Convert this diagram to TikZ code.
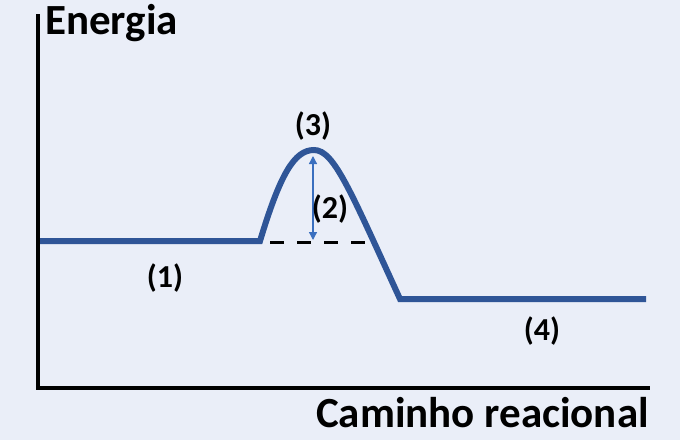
\documentclass[tikz,border=0pt]{standalone}
\usepackage{fontspec}
\setmainfont{Carlito}
\usetikzlibrary{arrows.meta}
\definecolor{bgc}{HTML}{EAEEF8}
\definecolor{curvec}{HTML}{2F5597}
\definecolor{arrc}{HTML}{3A6FBF}
\tikzset{
  axis/.style={line width=4pt, line cap=rect},
  pathline/.style={curvec, line width=6pt, line join=miter},
  lbl/.style={font=\bfseries\fontsize{32}{36}\selectfont, inner sep=0pt},
  ttl/.style={font=\bfseries\fontsize{43}{48}\selectfont, inner sep=0pt},
}
\begin{document}
\begin{tikzpicture}[x=1pt,y=-1pt]
\fill[bgc] (0,0) rectangle (680,440);
\useasboundingbox (0,0) rectangle (680,440);
\coordinate (top) at (38,16);
\coordinate (origin) at (38,388);
\coordinate (xend) at (648,388);
\draw[axis] (top) -- (origin) -- (xend);
\coordinate (s) at (40,241);
\coordinate (a) at (260,241);
\coordinate (pk) at (314,150);
\coordinate (b) at (400,299);
\coordinate (e) at (646,299);
\draw[pathline] (s) -- (a) .. controls (280,175) and (294,150) .. (pk)
  .. controls (334,150) and (350,190) .. (b) -- (e);
\coordinate (d1) at (270,242);
\coordinate (d2) at (366,242);
\draw[line width=3pt, dash pattern=on 14pt off 13pt] (d1) -- (d2);
\coordinate (ar1) at (313,156);
\coordinate (ar2) at (313,240);
\draw[arrc, line width=1.3pt, {Triangle[length=8pt,width=8pt]}-{Triangle[length=8pt,width=8pt]}] (ar1) -- (ar2);
\node[ttl, anchor=west] (en) at (45,23) {Energia};
\node[ttl, anchor=east] (cr) at (649,413) {Caminho reacional};
\node[lbl] (l3) at (313,126) {(3)};
\node[lbl] (l2) at (330,209) {(2)};
\node[lbl] (l1) at (165,278) {(1)};
\node[lbl] (l4) at (542,331) {(4)};
\end{tikzpicture}
\end{document}
